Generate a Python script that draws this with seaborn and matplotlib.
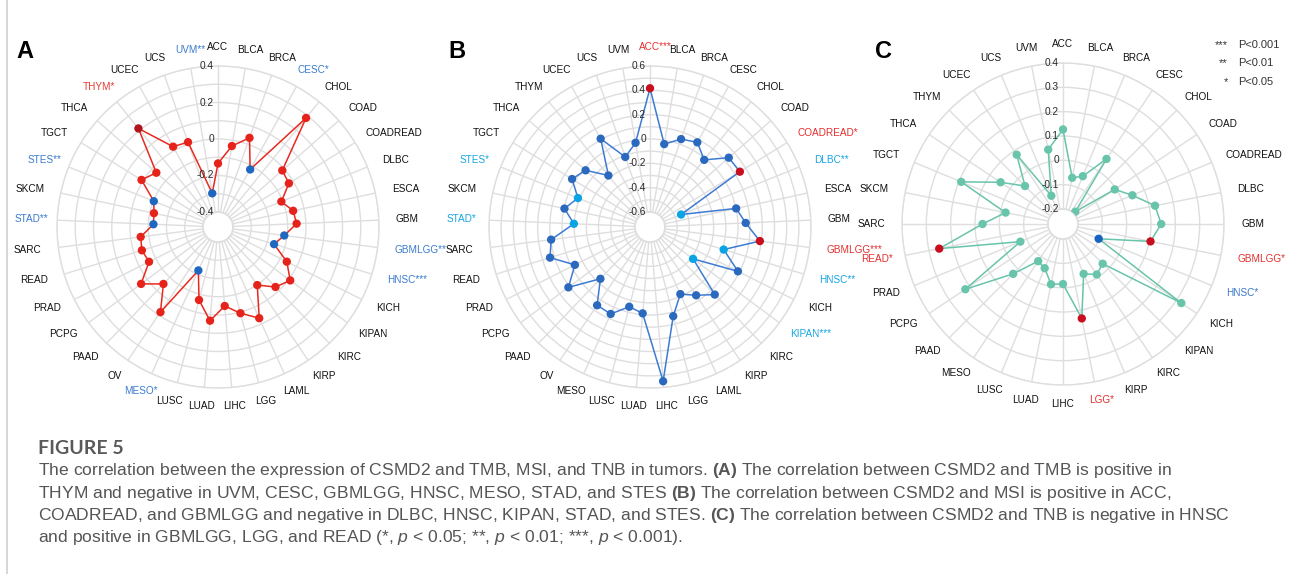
import numpy as np
import pandas as pd
import matplotlib
matplotlib.use("Agg")
import matplotlib.pyplot as plt
from matplotlib.lines import Line2D
import seaborn as sns

sns.set_theme(style="white")
plt.rcParams["font.family"] = ["Liberation Sans", "DejaVu Sans"]
plt.rcParams["mathtext.fontset"] = "custom"
plt.rcParams["mathtext.rm"] = "Liberation Sans"
plt.rcParams["mathtext.it"] = "Liberation Sans:italic"
plt.rcParams["mathtext.bf"] = "Liberation Sans:bold"

# ---------------- data ----------------
# (A) CSMD2 vs TMB
tmb_cancers = ["ACC", "BLCA", "BRCA", "CESC", "CHOL", "COAD", "COADREAD", "DLBC", "ESCA",
               "GBM", "GBMLGG", "HNSC", "KICH", "KIPAN", "KIRC", "KIRP", "LAML", "LGG",
               "LIHC", "LUAD", "LUSC", "MESO", "OV", "PAAD", "PCPG", "PRAD", "READ",
               "SARC", "STAD", "SKCM", "STES", "TGCT", "THCA", "THYM", "UCEC", "UCS", "UVM"]
tmb_cor = [-0.134, -0.032, 0.036, -0.121, 0.286, -0.013, -0.026, -0.108, -0.061,
           -0.051, -0.116, -0.161, -0.060, 0.010, -0.027, -0.098, 0.066, 0.006,
           -0.048, 0.033, -0.069, -0.221, 0.081, -0.050, 0.042, -0.059, -0.046,
           -0.055, -0.128, -0.123, -0.103, 0.010, -0.032, 0.212, 0.022, 0.011, -0.295]
tmb_stars = {"THYM": "*", "UVM": "**", "CESC": "*", "GBMLGG": "**", "HNSC": "***",
             "MESO": "*", "STAD": "**", "STES": "**"}

# (B) CSMD2 vs MSI
msi_cancers = tmb_cancers
msi_cor = [0.417, -0.032, 0.043, 0.074, -0.014, 0.139, 0.144, -0.448, 0.001,
           0.064, 0.187, -0.090, 0.086, -0.283, 0.046, -0.046, -0.118, 0.034,
           0.549, -0.011, -0.046, 0.061, 0.053, -0.134, 0.111, -0.032, 0.136,
           0.096, -0.097, -0.004, -0.085, 0.029, -0.018, -0.179, 0.108, -0.113, -0.021]
msi_stars = {"ACC": "***", "COADREAD": "*", "GBMLGG": "***", "DLBC": "**",
             "HNSC": "**", "KIPAN": "***", "STAD": "*", "STES": "*"}

# (C) CSMD2 vs TNB
tnb_cancers = ["ACC", "BLCA", "BRCA", "CESC", "CHOL", "COAD", "COADREAD", "DLBC", "GBM",
               "GBMLGG", "HNSC", "KICH", "KIPAN", "KIRC", "KIRP", "LGG", "LIHC", "LUAD",
               "LUSC", "MESO", "PAAD", "PCPG", "PRAD", "READ", "SARC", "SKCM", "TGCT",
               "THCA", "THYM", "UCEC", "UCS", "UVM"]
tnb_cor = [0.127, -0.068, -0.049, 0.060, -0.190, -0.006, 0.047, 0.124, 0.142,
           0.105, -0.103, 0.323, -0.031, -0.012, -0.040, 0.134, -0.015, -0.009,
           -0.065, -0.078, 0.028, 0.221, -0.072, 0.257, 0.069, -0.021, 0.191,
           0.047, -0.041, 0.081, -0.136, 0.050]
tnb_stars = {"GBMLGG": "*", "HNSC": "*", "LGG": "*", "READ": "*"}

tmb_ticks = [-0.4, -0.2, 0.0, 0.2, 0.4]
msi_ticks = [-0.6, -0.4, -0.2, 0.0, 0.2, 0.4, 0.6]
tnb_ticks = [-0.2, -0.1, 0.0, 0.1, 0.2, 0.3, 0.4]

legend_stars = ["***", "**", "*"]
legend_text = ["P<0.001", "P<0.01", "P<0.05"]

# ---------------- figure ----------------
W, H = 1290, 574
fig = plt.figure(figsize=(W / 100, H / 100), dpi=100)
renderer = fig.canvas.get_renderer()

GRID = "#dedede"
TXT = "#111111"


def radar(cx, cy, cats, vals, stars, ticks, grid_step, style, letter, letter_x):
    R, hole = 161, 15
    lo, hi = ticks[0], ticks[-1]
    n = len(cats)
    thetas = 2 * np.pi * np.arange(n) / n
    ax = fig.add_axes([(cx - R) / W, (H - cy - R) / H, 2 * R / W, 2 * R / H],
                      projection="polar")
    ax.set_theta_zero_location("N")
    ax.set_theta_direction(-1)

    groups = []
    for c, v in zip(cats, vals):
        if c in stars:
            groups.append("pos" if v > 0 else "neg")
        else:
            groups.append("ns")
    df = pd.DataFrame({"theta": thetas, "value": vals, "group": groups})
    closed = pd.concat([df, df.iloc[[0]].assign(theta=2 * np.pi)], ignore_index=True)

    sns.lineplot(data=closed, x="theta", y="value", sort=False, estimator=None,
                 color=style["line"], linewidth=1.1, ax=ax, zorder=2)
    sns.scatterplot(data=df, x="theta", y="value", hue="group",
                    palette={"ns": style["ns"], "pos": style["pos"], "neg": style["neg"]},
                    s=36, linewidth=0, legend=False, ax=ax, zorder=3)
    ax.set_xlabel("")
    ax.set_ylabel("")

    ax.set_ylim(lo, hi)
    ax.set_rorigin(lo - hole / (R - hole) * (hi - lo))
    ax.set_xticks(thetas)
    ax.set_xticklabels([])
    ax.set_yticks(np.round(np.arange(lo, hi + 1e-9, grid_step), 2))
    ax.set_yticklabels([])
    ax.tick_params(length=0)
    ax.grid(True, color=GRID, linewidth=1.0)
    ax.spines["polar"].set_color(GRID)
    ax.spines["polar"].set_linewidth(1.0)
    ax.spines["inner"].set_color(GRID)

    # radial value labels along the top spoke
    for t in ticks:
        lab = "0" if abs(t) < 1e-9 else f"{t:g}"
        ax.annotate(lab, xy=(0, t), xytext=(-4, 0), textcoords="offset pixels",
                    ha="right", va="center", fontsize=7.3, color="#2a2a2a",
                    annotation_clip=False, zorder=4)

    # cancer-type labels around the rim; the block is placed from the bare
    # name and significance stars are appended to its right
    gap = 17
    for th, c, v in zip(thetas, cats, vals):
        a = ax.annotate(c, xy=(th, hi), xytext=(0, 0), textcoords="offset pixels",
                        ha="left", va="center", fontsize=7.2, color=TXT,
                        annotation_clip=False)
        bb = a.get_window_extent(renderer)
        s, co = np.sin(th), np.cos(th)
        dx = (gap + bb.width / 2) * s - bb.width / 2
        dy = (gap * 0.8 + bb.height / 2) * co
        a.xyann = (dx, dy)
        if c in stars:
            a.set_text(c + stars[c])
            a.set_color(style["lab_pos"] if v > 0 else style["lab_neg"])

    fig.text(letter_x / W, 1 - 51 / H, letter, fontsize=17, fontweight="bold",
             color="black", ha="left", va="center")
    return ax


style_a = dict(line="#e8291f", ns="#e5231b", pos="#b0141c", neg="#1f68c0",
               lab_pos="#e63a32", lab_neg="#3b7bcf")
style_b = dict(line="#3d7bd3", ns="#2a69bd", pos="#c70f1e", neg="#0aa4e4",
               lab_pos="#e2302f", lab_neg="#17a5e2")
style_c = dict(line="#68c4aa", ns="#68c4aa", pos="#c90f1f", neg="#1763bf",
               lab_pos="#e2302f", lab_neg="#3a78cf")

radar(218, 227, tmb_cancers, tmb_cor, tmb_stars, tmb_ticks, 0.1, style_a, "A", 16)
radar(650, 227, msi_cancers, msi_cor, msi_stars, msi_ticks, 0.1, style_b, "B", 448)
radar(1063, 224, tnb_cancers, tnb_cor, tnb_stars, tnb_ticks, 0.1, style_c, "C", 875)

# significance key
for i, (st, tx) in enumerate(zip(legend_stars, legend_text)):
    y = 1 - (45 + i * 18.5) / H
    fig.text(1228 / W, y, st, fontsize=8, color="#333333", ha="right", va="center")
    fig.text(1238 / W, y, tx, fontsize=8, color="#333333", ha="left", va="center")

# left border rule
fig.add_artist(Line2D([7 / W, 7 / W], [0, 1], color="#cfcfcf", linewidth=1.2))

# caption
fig.text(38 / W, 1 - 448 / H, "FIGURE 5", fontsize=14, fontweight="bold",
         color="#5a5a5a", family=["Lato", "DejaVu Sans"], ha="left", va="center")
caption = [
    r"The correlation between the expression of CSMD2 and TMB, MSI, and TNB in tumors. $\mathbf{(A)}$ The correlation between CSMD2 and TMB is positive in",
    r"THYM and negative in UVM, CESC, GBMLGG, HNSC, MESO, STAD, and STES $\mathbf{(B)}$ The correlation between CSMD2 and MSI is positive in ACC,",
    r"COADREAD, and GBMLGG and negative in DLBC, HNSC, KIPAN, STAD, and STES. $\mathbf{(C)}$ The correlation between CSMD2 and TNB is negative in HNSC",
    r"and positive in GBMLGG, LGG, and READ (*, $\mathit{p}$ < 0.05; **, $\mathit{p}$ < 0.01; ***, $\mathit{p}$ < 0.001).",
]
for i, line in enumerate(caption):
    fig.text(38 / W, 1 - (471 + i * 22.3) / H, line, fontsize=12.6, color="#555555",
             ha="left", va="center")

fig.savefig("out.png", dpi=100, facecolor="white")
